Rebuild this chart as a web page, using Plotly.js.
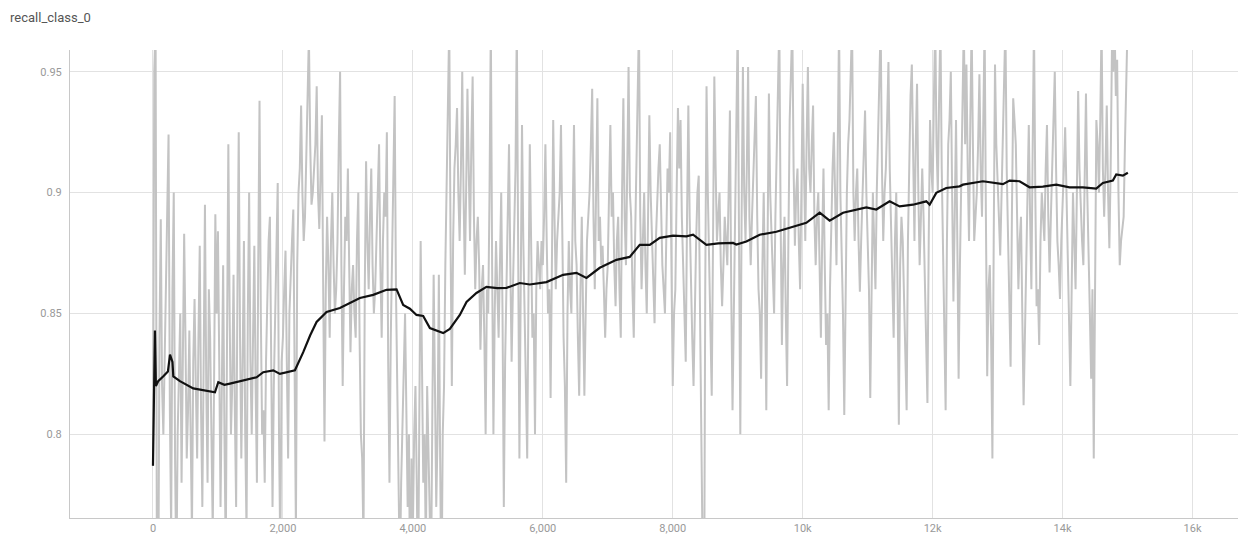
<!DOCTYPE html>
<html>
<head>
<meta charset="utf-8">
<script src="https://cdn.plot.ly/plotly-3.0.1.min.js"></script>
<style>
  html, body { margin: 0; padding: 0; background: #ffffff; }
  #chart { width: 1241px; height: 536px; }
</style>
</head>
<body>
<div id="chart"></div>
<script>
// recall_class_0: raw values logged every RAW_STEP steps, plus the smoothed curve.
const RAW_STEP = 20;

const rawRecall = [
  // steps 0 – 980
  0.787, 0.95, 0.97, 0.75, 0.72, 0.84, 0.889, 0.82, 0.80, 0.83, 0.847, 0.88, 0.924, 0.81, 0.76, 0.86, 0.90, 0.79, 0.74, 0.80, 0.83, 0.85, 0.78, 0.82, 0.883,
  0.84, 0.79, 0.81, 0.843, 0.80, 0.76, 0.83, 0.856, 0.82, 0.79, 0.84, 0.878, 0.81, 0.77, 0.83, 0.895, 0.82, 0.78, 0.86, 0.84, 0.80, 0.76, 0.82, 0.891, 0.85,
  // steps 1000 – 1980
  0.884, 0.83, 0.77, 0.82, 0.87, 0.80, 0.75, 0.84, 0.92, 0.85, 0.80, 0.82, 0.866, 0.81, 0.77, 0.86, 0.925, 0.84, 0.79, 0.83, 0.88, 0.80, 0.76, 0.85, 0.90,
  0.83, 0.80, 0.84, 0.878, 0.82, 0.78, 0.87, 0.938, 0.85, 0.80, 0.81, 0.78, 0.83, 0.86, 0.88, 0.89, 0.81, 0.77, 0.82, 0.85, 0.87, 0.904, 0.80, 0.75, 0.83,
  // steps 2000 – 2980
  0.84, 0.86, 0.876, 0.83, 0.79, 0.85, 0.87, 0.88, 0.893, 0.82, 0.76, 0.87, 0.90, 0.91, 0.936, 0.90, 0.88, 0.89, 0.91, 0.93, 0.965, 0.92, 0.895, 0.90, 0.91,
  0.92, 0.944, 0.90, 0.885, 0.91, 0.932, 0.86, 0.797, 0.86, 0.89, 0.87, 0.84, 0.88, 0.90, 0.87, 0.85, 0.86, 0.88, 0.92, 0.95, 0.87, 0.82, 0.86, 0.89, 0.88,
  // steps 3000 – 3980
  0.91, 0.87, 0.834, 0.86, 0.87, 0.85, 0.84, 0.88, 0.90, 0.84, 0.80, 0.79, 0.755, 0.86, 0.913, 0.88, 0.86, 0.89, 0.91, 0.87, 0.85, 0.86, 0.88, 0.90, 0.92,
  0.87, 0.84, 0.88, 0.90, 0.89, 0.925, 0.83, 0.78, 0.84, 0.87, 0.90, 0.94, 0.86, 0.82, 0.79, 0.74, 0.78, 0.80, 0.83, 0.85, 0.81, 0.77, 0.80, 0.72, 0.79,
  // steps 4000 – 4980
  0.76, 0.80, 0.82, 0.78, 0.73, 0.81, 0.88, 0.83, 0.78, 0.80, 0.75, 0.82, 0.80, 0.77, 0.74, 0.81, 0.866, 0.82, 0.77, 0.80, 0.866, 0.79, 0.73, 0.80, 0.82,
  0.87, 0.90, 0.93, 0.97, 0.88, 0.82, 0.88, 0.91, 0.92, 0.935, 0.90, 0.88, 0.91, 0.95, 0.90, 0.866, 0.90, 0.943, 0.91, 0.88, 0.92, 0.948, 0.89, 0.86, 0.88,
  // steps 5000 – 5980
  0.89, 0.87, 0.835, 0.86, 0.87, 0.84, 0.80, 0.86, 0.85, 0.90, 0.97, 0.87, 0.80, 0.85, 0.88, 0.86, 0.84, 0.87, 0.90, 0.85, 0.77, 0.83, 0.86, 0.89, 0.92,
  0.87, 0.83, 0.86, 0.88, 0.91, 0.97, 0.85, 0.79, 0.86, 0.928, 0.88, 0.85, 0.83, 0.79, 0.86, 0.92, 0.88, 0.84, 0.85, 0.80, 0.86, 0.88, 0.87, 0.86, 0.88,
  // steps 6000 – 6980
  0.87, 0.89, 0.92, 0.88, 0.85, 0.86, 0.815, 0.87, 0.93, 0.89, 0.86, 0.88, 0.89, 0.90, 0.928, 0.87, 0.84, 0.82, 0.78, 0.85, 0.88, 0.86, 0.85, 0.89, 0.928,
  0.88, 0.87, 0.84, 0.816, 0.86, 0.89, 0.85, 0.816, 0.85, 0.88, 0.89, 0.90, 0.92, 0.943, 0.89, 0.86, 0.90, 0.939, 0.88, 0.89, 0.87, 0.878, 0.86, 0.84, 0.86,
  // steps 7000 – 7980
  0.87, 0.90, 0.928, 0.89, 0.90, 0.87, 0.853, 0.88, 0.89, 0.86, 0.84, 0.90, 0.939, 0.89, 0.87, 0.91, 0.952, 0.90, 0.89, 0.86, 0.84, 0.88, 0.91, 0.93, 0.97,
  0.89, 0.86, 0.88, 0.90, 0.87, 0.85, 0.89, 0.932, 0.90, 0.88, 0.86, 0.846, 0.88, 0.90, 0.91, 0.92, 0.89, 0.87, 0.86, 0.85, 0.88, 0.91, 0.90, 0.925, 0.87,
  // steps 8000 – 8980
  0.82, 0.85, 0.86, 0.90, 0.935, 0.91, 0.93, 0.89, 0.87, 0.85, 0.83, 0.89, 0.936, 0.89, 0.86, 0.84, 0.82, 0.86, 0.88, 0.90, 0.907, 0.85, 0.80, 0.76, 0.70,
  0.86, 0.944, 0.90, 0.87, 0.84, 0.816, 0.88, 0.948, 0.91, 0.88, 0.89, 0.90, 0.87, 0.853, 0.87, 0.89, 0.88, 0.87, 0.90, 0.934, 0.86, 0.81, 0.85, 0.89, 0.91,
  // steps 9000 – 9980
  0.97, 0.88, 0.80, 0.89, 0.952, 0.90, 0.88, 0.91, 0.952, 0.89, 0.87, 0.89, 0.91, 0.92, 0.94, 0.89, 0.86, 0.85, 0.823, 0.87, 0.90, 0.86, 0.81, 0.88, 0.941,
  0.90, 0.88, 0.86, 0.85, 0.89, 0.92, 0.94, 0.97, 0.89, 0.837, 0.87, 0.89, 0.85, 0.82, 0.88, 0.93, 0.95, 0.97, 0.91, 0.878, 0.90, 0.91, 0.88, 0.86, 0.90,
  // steps 10000 – 10980
  0.945, 0.91, 0.88, 0.92, 0.952, 0.91, 0.90, 0.92, 0.936, 0.89, 0.87, 0.89, 0.90, 0.87, 0.84, 0.88, 0.91, 0.87, 0.837, 0.85, 0.81, 0.86, 0.89, 0.91, 0.925,
  0.89, 0.87, 0.92, 0.97, 0.90, 0.88, 0.85, 0.808, 0.87, 0.90, 0.92, 0.93, 0.95, 0.97, 0.90, 0.88, 0.90, 0.91, 0.88, 0.859, 0.88, 0.90, 0.92, 0.934, 0.90,
  // steps 11000 – 11980
  0.88, 0.86, 0.815, 0.87, 0.90, 0.88, 0.86, 0.90, 0.93, 0.95, 0.97, 0.91, 0.88, 0.90, 0.91, 0.93, 0.954, 0.91, 0.89, 0.87, 0.84, 0.88, 0.90, 0.86, 0.804,
  0.87, 0.89, 0.88, 0.86, 0.84, 0.81, 0.88, 0.92, 0.94, 0.953, 0.91, 0.88, 0.92, 0.945, 0.90, 0.87, 0.89, 0.91, 0.89, 0.86, 0.84, 0.813, 0.88, 0.93, 0.91,
  // steps 12000 – 12980
  0.90, 0.94, 0.97, 0.92, 0.90, 0.94, 0.97, 0.91, 0.88, 0.85, 0.81, 0.88, 0.92, 0.93, 0.95, 0.90, 0.855, 0.89, 0.93, 0.88, 0.823, 0.87, 0.90, 0.94, 0.97,
  0.92, 0.953, 0.91, 0.88, 0.93, 0.97, 0.92, 0.88, 0.89, 0.90, 0.92, 0.949, 0.91, 0.89, 0.93, 0.97, 0.89, 0.824, 0.86, 0.87, 0.84, 0.79, 0.88, 0.953, 0.92,
  // steps 13000 – 13980
  0.90, 0.89, 0.874, 0.90, 0.93, 0.95, 0.97, 0.91, 0.88, 0.85, 0.828, 0.89, 0.939, 0.93, 0.92, 0.89, 0.86, 0.88, 0.89, 0.85, 0.812, 0.84, 0.87, 0.90, 0.928,
  0.89, 0.86, 0.92, 0.97, 0.90, 0.853, 0.86, 0.837, 0.88, 0.90, 0.89, 0.88, 0.91, 0.928, 0.89, 0.867, 0.89, 0.91, 0.93, 0.95, 0.91, 0.88, 0.87, 0.856, 0.88,
  // steps 14000 – 15000
  0.90, 0.91, 0.927, 0.90, 0.87, 0.85, 0.82, 0.86, 0.90, 0.88, 0.86, 0.90, 0.942, 0.91, 0.89, 0.88, 0.87, 0.90, 0.941, 0.90, 0.88, 0.85, 0.823, 0.86, 0.79,
  0.87, 0.93, 0.92, 0.90, 0.93, 0.97, 0.91, 0.89, 0.91, 0.936, 0.90, 0.877, 0.91, 0.96, 0.95, 0.97, 0.94, 0.955, 0.90, 0.87, 0.88, 0.885, 0.89, 0.92, 0.94,
  0.97
];
const rawSteps = rawRecall.map((_, i) => i * RAW_STEP);

// Smoothed curve
const smoothSteps = [
  0, 30, 45, 80, 160, 230, 262, 300, 313, 415, 620, 800, 954, 1005, 1100, 1185, 1338, 1595, 1697, 1851,
  1954, 2185, 2313, 2420, 2518, 2672, 2877, 3185, 3390, 3595, 3749, 3851, 3954, 4056, 4159, 4262, 4467, 4569, 4723, 4826,
  4979, 5133, 5300, 5441, 5646, 5800, 6056, 6313, 6518, 6672, 6877, 7133, 7338, 7492, 7646, 7800, 8005, 8210, 8313, 8518,
  8700, 8928, 8979, 9133, 9338, 9595, 9800, 10056, 10262, 10415, 10621, 10826, 10979, 11133, 11338, 11492, 11697, 11903, 11954, 12056,
  12210, 12415, 12467, 12774, 12928, 13082, 13185, 13338, 13492, 13697, 13903, 14108, 14313, 14518, 14620, 14774, 14826, 14928, 15005
];
const smoothRecall = [
  0.787, 0.843, 0.820, 0.822, 0.824, 0.826, 0.833, 0.830, 0.824, 0.822, 0.819, 0.818, 0.8174, 0.8216, 0.8205, 0.821, 0.822, 0.8236, 0.8257, 0.8265,
  0.825, 0.8265, 0.834, 0.841, 0.8465, 0.8506, 0.8523, 0.8564, 0.8577, 0.8598, 0.860, 0.8535, 0.852, 0.8494, 0.849, 0.844, 0.8419, 0.8436, 0.8494, 0.8548,
  0.8585, 0.861, 0.8605, 0.8606, 0.8626, 0.862, 0.863, 0.866, 0.8668, 0.8647, 0.8689, 0.8722, 0.8734, 0.8784, 0.8784, 0.8813, 0.8822, 0.8819, 0.8826, 0.8784,
  0.879, 0.8792, 0.8785, 0.8798, 0.8826, 0.8838, 0.8855, 0.8875, 0.8917, 0.8884, 0.8917, 0.893, 0.8939, 0.893, 0.8964, 0.8943, 0.895, 0.8964, 0.895, 0.8999,
  0.9019, 0.9026, 0.9033, 0.9047, 0.9042, 0.9035, 0.905, 0.9047, 0.9022, 0.9025, 0.9033, 0.9022, 0.9022, 0.9017, 0.904, 0.905, 0.9075, 0.907, 0.9082
];

// Axis ticks
const xTickVals = [0, 2000, 4000, 6000, 8000, 10000, 12000, 14000, 16000];
const xTickText = ['0', '2,000', '4,000', '6,000', '8,000', '10k', '12k', '14k', '16k'];
const yTickVals = [0.8, 0.85, 0.9, 0.95];
const yTickText = ['0.8', '0.85', '0.9', '0.95'];

const traces = [
  {
    x: rawSteps, y: rawRecall, type: 'scatter', mode: 'lines',
    line: { color: 'rgb(195,195,195)', width: 2 },
    hoverinfo: 'skip', showlegend: false
  },
  {
    x: smoothSteps, y: smoothRecall, type: 'scatter', mode: 'lines',
    line: { color: '#111111', width: 2.2 },
    showlegend: false
  }
];

const layout = {
  width: 1241, height: 536,
  margin: { l: 70, r: 3, t: 50, b: 18 },
  paper_bgcolor: '#ffffff', plot_bgcolor: '#ffffff',
  font: { family: 'Roboto, "Noto Sans", sans-serif', size: 11, color: '#999999' },
  title: {
    text: 'recall_class_0',
    x: 10 / 1241, xref: 'container', xanchor: 'left',
    y: 1 - 17 / 536, yref: 'container', yanchor: 'middle',
    font: { family: 'Roboto, "Noto Sans", sans-serif', size: 13, color: '#555555' }
  },
  xaxis: {
    range: [-1277, 16700],
    tickvals: xTickVals, ticktext: xTickText,
    showgrid: true, gridcolor: '#e2e2e2', gridwidth: 1,
    zeroline: false, showline: true, linecolor: '#c8c8c8', linewidth: 1,
    ticks: '', ticklabelstandoff: 0,
    tickfont: { family: 'Roboto, "Noto Sans", sans-serif', size: 11, color: '#999999' }
  },
  yaxis: {
    range: [0.7654, 0.959],
    tickvals: yTickVals, ticktext: yTickText,
    showgrid: true, gridcolor: '#e2e2e2', gridwidth: 1,
    zeroline: false, showline: true, linecolor: '#c8c8c8', linewidth: 1,
    ticks: '', ticklabelstandoff: 5,
    tickfont: { family: 'Roboto, "Noto Sans", sans-serif', size: 11, color: '#999999' }
  }
};

Plotly.newPlot('chart', traces, layout, { staticPlot: true, displayModeBar: false });
</script>
</body>
</html>
